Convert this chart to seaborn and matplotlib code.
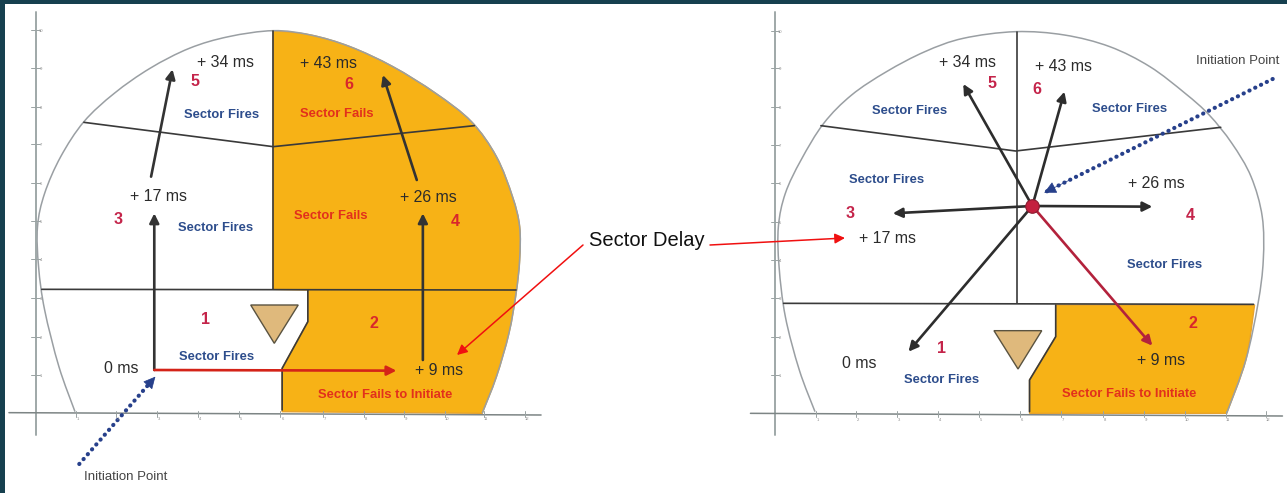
import numpy as np
import pandas as pd
import matplotlib
matplotlib.use('Agg')
import matplotlib.pyplot as plt
from matplotlib.path import Path
from matplotlib.patches import PathPatch
import seaborn as sns

left_outline = [(210,1235),(165,1100),(125,930),(108,800),(105,680),(125,580),(170,470),(235,365),(320,280),
                (420,205),(530,145),(640,110),(765,92),(870,105),(980,140),(1100,200),(1220,280),(1320,365),
                (1390,470),(1435,590),(1455,680),(1455,780),(1445,880),(1425,1000),(1390,1130),(1350,1240)]
left_orange_arc = [(765,92),(870,105),(980,140),(1100,200),(1220,280),(1320,365),(1390,470),(1435,590),(1455,680),
                   (1455,780),(1445,880),(1425,1000),(1390,1130),(1350,1240)]
left_orange_rest = [(790,1235),(790,1105),(862,965),(862,870),(765,868)]
left_lines = [[(235,367),(765,440),(1328,377)], [(765,92),(765,868)], [(117,868),(1445,870)],
              [(862,870),(862,965),(790,1105),(790,1230)]]
left_triangle = [(702,915),(835,915),(768,1030)]
left_arrows = [((432,1110),(432,640)), ((1184,1080),(1184,640)), ((423,530),(483,208)), ((1167,540),(1072,225))]
left_red_arrow = ((432,1110),(1110,1112))
left_dotted = ((222,1392),(435,1130))
left_axis_y = [(100,35),(100,1305)]
left_axis_x = [(25,1238),(1515,1245)]
left_yticks = [1125,1010,893,778,662,548,433,320,203,90]
left_xticks = [212,325,440,555,670,785,903,1020,1130,1245,1355,1470]
left_times = [('+ 34 ms',632,187),('+ 43 ms',920,192),('+ 17 ms',445,590),('+ 26 ms',1200,592),
              ('0 ms',340,1105),('+ 9 ms',1228,1112)]
left_numbers = [('5',545,245),('6',978,253),('3',332,660),('4',1275,665),('1',575,960),('2',1048,972)]
left_fires = [(620,346),(604,683),(607,1072)]
left_fails = [('Sector Fails',942,343),('Sector Fails',926,648),('Sector Fails to Initiate',1078,1186)]
left_init = (352,1430)

right_outline = [(215,1235),(170,1110),(130,950),(112,800),(110,680),(130,580),(175,480),(240,370),(320,285),
                 (420,215),(530,155),(640,115),(790,95),(930,105),(1060,140),(1175,200),(1276,280),(1345,345),
                 (1410,430),(1465,530),(1497,650),(1500,780),(1485,910),(1450,1080),(1395,1240)]
right_orange_arc = [(1475,915),(1450,1080),(1395,1240)]
right_orange_rest = [(830,1240),(830,1140),(905,1010),(905,915)]
right_lines = [[(232,377),(790,453),(1378,382)], [(793,95),(793,910)], [(125,910),(1472,913)],
               [(905,915),(905,1010),(830,1140),(830,1235)]]
right_triangle = [(728,992),(865,992),(797,1107)]
hub = (838,618)
right_tips = [(640,252),(930,275),(438,640),(1182,620),(483,1055)]
right_red_tip = (1182,1037)
right_dotted = ((1527,237),(872,578))
right_axis_y = [(100,35),(100,1305)]
right_axis_x = [(30,1240),(1555,1248)]
right_yticks = [1125,1010,895,780,665,550,435,320,205,92]
right_xticks = [218,333,450,568,685,803,920,1040,1157,1275,1392,1508]
right_times = [('+ 34 ms',653,187),('+ 43 ms',928,200),('+ 26 ms',1194,552),('+ 17 ms',422,716),
               ('0 ms',342,1090),('+ 9 ms',1208,1082)]
right_numbers = [('5',722,250),('6',851,268),('3',316,642),('4',1291,648),('1',577,1045),('2',1298,970)]
right_fires = [(485,332),(1117,327),(421,540),(1216,795),(578,1140)]
right_fails = [('Sector Fails to Initiate',1115,1183)]
right_init = (1427,183)

tick_labels_x = ['1','2','3','4','5','6','7','8','9','10','11','12']
tick_labels_y = ['1','2','3','4','5','6','7','8','9','10']

delay_label = 'Sector Delay'
delay_label_pos = (589,241)
delay_arrows = [((583,245),(457,355)), ((710,245),(845,238))]  # already in image pixels

sns.set_theme(style='white')
plt.rcParams['font.family'] = ['Liberation Sans', 'DejaVu Sans']

fig = plt.figure(figsize=(12.87, 4.93), dpi=100)
ax = fig.add_axes([0, 0, 1, 1])

# crop scales: x differs by panel, y is 3 in both
SX = {0: 2.8, 740: 1568 / 547}


def to_px(points, off):
    return [(off + p[0] / SX[off], p[1] / 3) for p in points]


def smooth_verts(points):
    # bezier through the read points so the tunnel arc has no corners
    pts = np.array(points, dtype=float)
    verts = [tuple(pts[0])]
    codes = [Path.MOVETO]
    for i in range(len(pts) - 1):
        p0 = pts[max(i - 1, 0)]
        p1 = pts[i]
        p2 = pts[i + 1]
        p3 = pts[min(i + 2, len(pts) - 1)]
        verts += [tuple(p1 + (p2 - p0) / 6), tuple(p2 - (p3 - p1) / 6), tuple(p2)]
        codes += [Path.CURVE4] * 3
    return verts, codes


def draw_line(points, off, color='#3a3a3a', lw=1.2):
    pts = pd.DataFrame(to_px(points, off), columns=['x', 'y'])
    sns.lineplot(data=pts, x='x', y='y', sort=False, estimator=None, color=color, linewidth=lw, ax=ax)


def draw_arrow(start, end, color, lw=1.9, size=14):
    ax.annotate('', xy=end, xytext=start,
                arrowprops=dict(arrowstyle='-|>', color=color, lw=lw, mutation_scale=size,
                                shrinkA=0, shrinkB=0))


def draw_dotted(points, off):
    draw_line(points, off, color='#27408b', lw=3)
    dots = ax.lines[-1]
    dots.set_linestyle((0, (0.05, 1.5)))
    dots.set_dash_capstyle('round')
    p = to_px(points, off)
    ax.annotate('', xy=p[1], xytext=(p[1][0] + (p[0][0] - p[1][0]) * 0.12, p[1][1] + (p[0][1] - p[1][1]) * 0.12),
                arrowprops=dict(arrowstyle='-|>', color='#27408b', lw=0.5, mutation_scale=19, shrinkA=0, shrinkB=0))


def panel(off, outline, arc, rest, lines, triangle, axis_x, axis_y, xticks, yticks, times, numbers, fires, fails, init):
    sx = SX[off]
    verts, codes = smooth_verts(to_px(arc, off))
    rest_px = to_px(rest, off)
    verts += rest_px + [verts[0]]
    codes += [Path.LINETO] * len(rest_px) + [Path.CLOSEPOLY]
    ax.add_patch(PathPatch(Path(verts, codes), fc='#f7b216', ec='#e8a32a', lw=1))
    v2, c2 = smooth_verts(to_px(outline, off))
    ax.add_patch(PathPatch(Path(v2, c2), fc='none', ec='#9a9fa3', lw=1.1))
    t = to_px(triangle, off)
    ax.fill([p[0] for p in t], [p[1] for p in t], fc='#dfb97c', ec='#5a5340', lw=1)
    for ln in lines:
        draw_line(ln, off)
    draw_line(axis_y, off, color='#9fa8a8', lw=1.4)
    draw_line(axis_x, off, color='#7d8585', lw=1.1)
    y0 = axis_y[0][0]
    ybase = (axis_x[0][1] + axis_x[1][1]) / 2
    for i, yt in enumerate(yticks):
        draw_line([(y0 - 12, yt), (y0 + 12, yt)], off, color='#9aa3a3', lw=0.7)
        ax.text(off + (y0 + 14) / sx, yt / 3 + 1, tick_labels_y[i], fontsize=3, color='#8c8c8c', ha='center', va='center')
    for i, xt in enumerate(xticks):
        draw_line([(xt, ybase - 10), (xt, ybase + 8)], off, color='#9aa3a3', lw=0.7)
        ax.text(off + (xt + 6) / sx, (ybase + 17) / 3, tick_labels_x[i], fontsize=3, color='#8c8c8c', ha='center', va='center')
    for s, x, y in times:
        ax.text(off + x / sx, y / 3, s, fontsize=11.4, color='#2b2b2b', ha='center', va='center')
    for s, x, y in numbers:
        col = '#d8262c' if (off == 0 and s in '246') or s == '2' else '#c4244a'
        ax.text(off + x / sx, y / 3, s, fontsize=11.5, fontweight='bold', color=col, ha='center', va='center')
    for x, y in fires:
        ax.text(off + x / sx, y / 3, 'Sector Fires', fontsize=9.4, fontweight='bold', color='#2d4d8c', ha='center', va='center')
    for s, x, y in fails:
        ax.text(off + x / sx, y / 3, s, fontsize=9.4, fontweight='bold', color='#e2301c', ha='center', va='center')
    ax.text(off + init[0] / sx, init[1] / 3, 'Initiation Point', fontsize=9.5, color='#444444', ha='center', va='center')


panel(0, left_outline, left_orange_arc, left_orange_rest, left_lines, left_triangle, left_axis_x, left_axis_y,
      left_xticks, left_yticks, left_times, left_numbers, left_fires, left_fails, left_init)
panel(740, right_outline, right_orange_arc, right_orange_rest, right_lines, right_triangle, right_axis_x, right_axis_y,
      right_xticks, right_yticks, right_times, right_numbers, right_fires, right_fails, right_init)

# left arrows
for a, b in left_arrows:
    p = to_px([a, b], 0)
    draw_arrow(p[0], p[1], '#333333')
p = to_px(left_red_arrow, 0)
draw_arrow(p[0], p[1], '#d42318')
draw_dotted(left_dotted, 0)

# right arrows out of the hub
for tip in right_tips:
    p = to_px([hub, tip], 740)
    draw_arrow(p[0], p[1], '#2d2d2d')
p = to_px([hub, right_red_tip], 740)
draw_arrow(p[0], p[1], '#b3223c')
draw_dotted(right_dotted, 740)
hub_px = to_px([hub], 740)[0]
sns.scatterplot(x=[hub_px[0]], y=[hub_px[1]], s=95, color='#c4203f', edgecolor='#8a1c30', linewidth=0.8, ax=ax, zorder=5)

# the sector delay callout
ax.text(delay_label_pos[0], delay_label_pos[1], delay_label, fontsize=14.5, color='#111111', ha='left', va='center')
for a, b in delay_arrows:
    draw_arrow(a, b, '#f01010', lw=1.1, size=15)

ax.axhspan(0, 4, color='#16404f', lw=0, zorder=10)
ax.axvspan(0, 4.5, color='#16404f', lw=0, zorder=10)
ax.set_xlim(0, 1287)
ax.set_ylim(493, 0)
ax.axis('off')

plt.savefig('out.png', dpi=100)
